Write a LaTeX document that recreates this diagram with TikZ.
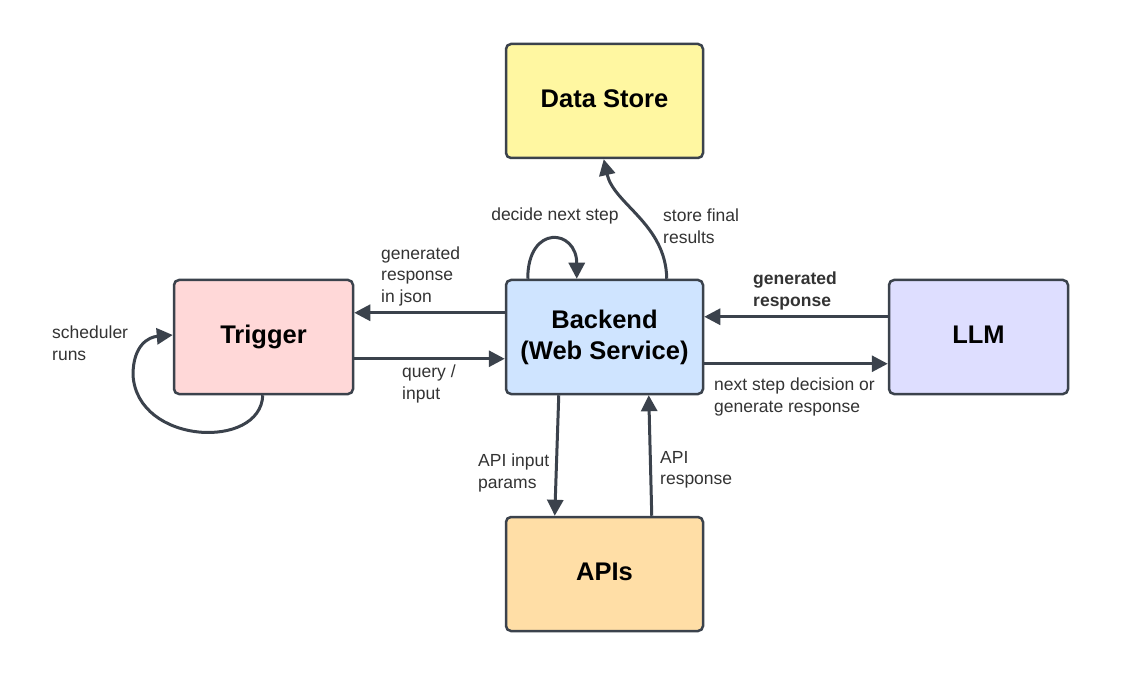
\documentclass[tikz,border=0pt]{standalone}
\usepackage{fontspec}
\setmainfont{Liberation Sans}
\usetikzlibrary{arrows.meta,calc}
\definecolor{edge}{HTML}{3B424C}
\definecolor{txt}{HTML}{333333}
\definecolor{cyel}{HTML}{FFF7A1}
\definecolor{cpink}{HTML}{FFD8D8}
\definecolor{cblue}{HTML}{CFE4FF}
\definecolor{clav}{HTML}{DEDEFF}
\definecolor{corg}{HTML}{FFDEA6}
\tikzset{
  box/.style={draw=edge, line width=2.5pt, rounded corners=5pt, minimum height=114pt,
    align=center, text=black, font=\fontsize{25.5}{31}\selectfont\bfseries, inner sep=0pt},
  wide/.style={box, minimum width=197pt},
  narrow/.style={box, minimum width=179pt},
  conn/.style={draw=edge, line width=3pt, -{Triangle[length=16pt,width=16pt]}},
  lbl/.style={text=txt, font=\fontsize{17.5}{21.5}\selectfont, align=left, inner sep=0pt, anchor=west},
}
\begin{document}
\begin{tikzpicture}[x=1pt,y=-1pt]
\useasboundingbox (0,0) rectangle (1123,684);
\fill[white] (0,0) rectangle (1123,684);
\node[wide, fill=cyel] (ds) at (604.5,101) {Data Store\vphantom{g}};
\node[narrow, fill=cpink] (tr) at (263.5,337) {Trigger};
\node[wide, fill=cblue] (be) at (604.5,337) {Backend\\(Web Service)};
\node[narrow, fill=clav] (llm) at (978.5,337) {LLM\vphantom{g}};
\node[wide, fill=corg] (api) at (604.5,574) {APIs\vphantom{g}};

% Backend <-> Trigger
\draw[conn] ([yshift=-34pt]be.north west) -- ([yshift=-34pt]tr.north east);
\draw[conn] ([yshift=-80pt]tr.north east) -- ([yshift=-80pt]be.north west);
% LLM <-> Backend
\draw[conn] ([yshift=-38pt]llm.north west) -- ([yshift=-38pt]be.north east);
\draw[conn] ([yshift=-85pt]be.north east) -- ([yshift=-85pt]llm.north west);
% Backend <-> APIs
\draw[conn] ([xshift=54pt]be.south west) -- ([xshift=50pt]api.north west);
\draw[conn] ([xshift=147pt]api.north west) -- ([xshift=144pt]be.south west);
% Backend -> Data Store
\coordinate (bs) at ([xshift=162pt]be.north west);
\coordinate (de) at ([xshift=99pt]ds.south west);
\draw[conn] (bs) .. controls ($(bs)+(-1,-55)$) and ($(de)+(10,45)$) .. (de);
% Backend self loop
\coordinate (l1) at ([xshift=23pt]be.north west);
\coordinate (l2) at ([xshift=72pt]be.north west);
\draw[conn] (l1) .. controls ($(l1)+(0,-55)$) and ($(l2)+(0,-50)$) .. (l2);
% Trigger self loop
\coordinate (t1) at ([xshift=90pt]tr.south west);
\coordinate (t2) at ([yshift=2pt]tr.west);
\coordinate (tm) at (133,375);
\draw[conn] (t1) .. controls ($(t1)+(-2,55)$) and ($(tm)+(4,70)$) .. (tm)
  .. controls ($(tm)+(0,-30)$) and ($(t2)+(-24,2)$) .. (t2);

% labels
\node[lbl, anchor=center] (ldec) at (555,216) {decide next step};
\node[lbl] (lstore) at (663,226) {store final\\results};
\node[lbl] (lgen) at (381,276) {generated\\response\\in json};
\node[lbl] (lq) at (402,384) {query /\\input};
\node[lbl] (lsch) at (52,343) {scheduler\\runs};
\node[lbl, font=\fontsize{17.5}{21.5}\selectfont\bfseries] (lgr) at (753,291) {generated\\response};
\node[lbl] (lnext) at (714,397) {next step decision or\\generate response};
\node[lbl] (lai) at (478,473) {API input\\params};
\node[lbl] (lar) at (660,470) {API\\response};
\end{tikzpicture}
\end{document}
